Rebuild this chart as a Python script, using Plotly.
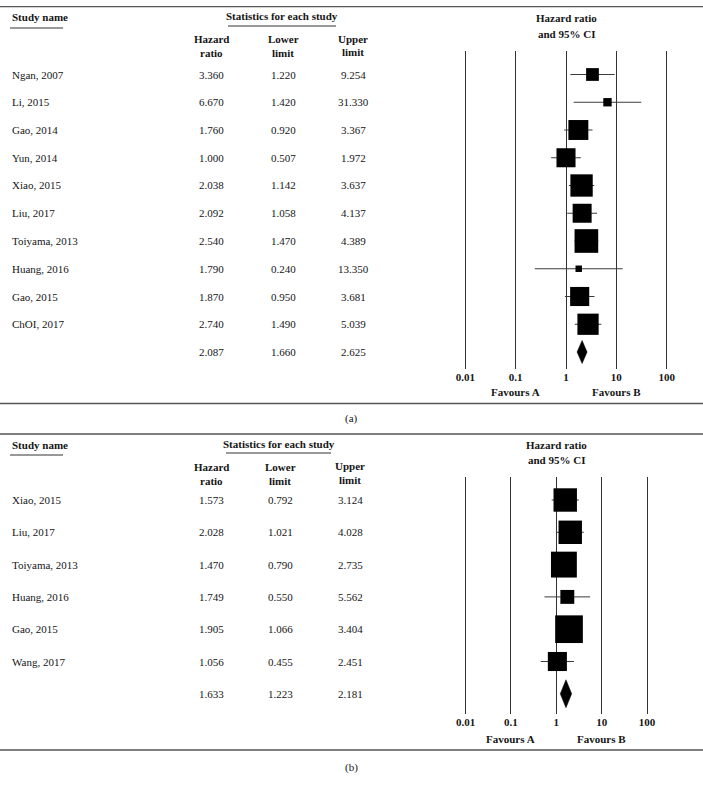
import numpy as np
import plotly.graph_objects as go

# ---------------- data ----------------
studies_a = ["Ngan, 2007", "Li, 2015", "Gao, 2014", "Yun, 2014", "Xiao, 2015",
             "Liu, 2017", "Toiyama, 2013", "Huang, 2016", "Gao, 2015", "ChOI, 2017"]
hr_a = [3.360, 6.670, 1.760, 1.000, 2.038, 2.092, 2.540, 1.790, 1.870, 2.740]
lo_a = [1.220, 1.420, 0.920, 0.507, 1.142, 1.058, 1.470, 0.240, 0.950, 1.490]
up_a = [9.254, 31.330, 3.367, 1.972, 3.637, 4.137, 4.389, 13.350, 3.681, 5.039]
pooled_a = [2.087, 1.660, 2.625]

studies_b = ["Xiao, 2015", "Liu, 2017", "Toiyama, 2013", "Huang, 2016", "Gao, 2015", "Wang, 2017"]
hr_b = [1.573, 2.028, 1.470, 1.749, 1.905, 1.056]
lo_b = [0.792, 1.021, 0.790, 0.550, 1.066, 0.455]
up_b = [3.124, 4.028, 2.735, 5.562, 3.404, 2.451]
pooled_b = [1.633, 1.223, 2.181]

tick_vals = [0.01, 0.1, 1, 10, 100]
tick_text = ["0.01", "0.1", "1", "10", "100"]

# ---------------- layout helpers ----------------
W, H = 703, 787
FONT = "Liberation Serif"
TXT = "#151515"


def px(x):
    return x / W


def py(y):
    return 1 - y / H


panels = [
    dict(name="a", studies=studies_a, hr=hr_a, lo=lo_a, up=up_a, pooled=pooled_a,
         row0=74.5, step=27.75, grid_top=51, grid_bot=369, zero_px=566.0, dec=50.33,
         box_k=6.6, dia_h=11.5, top_rule=6.7, bot_rule=403.5, label_y=418.5, label="(a)",
         hdr1=17, hdr_sub=28, hdr_hr=(18, 34), col_hdr=(39.5, 53), fav_y=392.5,
         cols=(212, 283, 353), fs=11, xa="x", ya="y"),
    dict(name="b", studies=studies_b, hr=hr_b, lo=lo_b, up=up_b, pooled=pooled_b,
         row0=500.0, step=32.3, grid_top=477, grid_bot=714, zero_px=556.3, dec=45.4,
         box_k=8.2, dia_h=14, top_rule=434, bot_rule=750, label_y=767, label="(b)",
         hdr1=444.5, hdr_sub=455, hdr_hr=(445, 460), col_hdr=(467, 480.5), fav_y=739,
         cols=(212, 280, 350), fs=11, xa="x2", ya="y2"),
]

fig = go.Figure()
shapes = []
annotations = []
layout_axes = {}

for i, p in enumerate(panels):
    n = len(p["studies"])
    rows = list(range(n))
    sum_row = n
    # CI lines
    xs, ys = [], []
    for r, l, u in zip(rows, p["lo"], p["up"]):
        xs += [l, u, None]
        ys += [r, r, None]
    fig.add_trace(go.Scatter(x=xs, y=ys, mode="lines", line=dict(color="#3c3c3c", width=1),
                             hoverinfo="skip", showlegend=False, xaxis=p["xa"], yaxis=p["ya"]))
    # boxes: area proportional to inverse-variance weight
    se = (np.log(p["up"]) - np.log(p["lo"])) / 3.92
    sizes = p["box_k"] / se
    fig.add_trace(go.Scatter(x=p["hr"], y=rows, mode="markers",
                             marker=dict(symbol="square", size=sizes, color="black",
                                         opacity=1, line=dict(width=0)),
                             showlegend=False, xaxis=p["xa"], yaxis=p["ya"]))
    # pooled diamond
    est, lo, up = p["pooled"]
    h = p["dia_h"] / p["step"]
    fig.add_trace(go.Scatter(x=[lo, est, up, est, lo],
                             y=[sum_row, sum_row - h, sum_row, sum_row + h, sum_row],
                             mode="lines", fill="toself", fillcolor="black",
                             line=dict(color="black", width=0.5),
                             showlegend=False, xaxis=p["xa"], yaxis=p["ya"]))

    # axes
    x0p, x1p = 440, 690
    xr = [(x0p - p["zero_px"]) / p["dec"], (x1p - p["zero_px"]) / p["dec"]]
    ytop = (p["grid_top"] - p["row0"]) / p["step"]
    ybot = (p["grid_bot"] - p["row0"]) / p["step"]
    suffix = "" if i == 0 else "2"
    layout_axes["xaxis" + suffix] = dict(
        domain=[px(x0p), px(x1p)], type="log", range=xr,
        tickvals=tick_vals, ticktext=["<b>%s</b>" % t for t in tick_text],
        tickfont=dict(family=FONT, size=11, color=TXT),
        showgrid=True, gridcolor="#333333", gridwidth=1.3, zeroline=False,
        showline=False, ticks="", anchor="y" + suffix, fixedrange=True)
    layout_axes["yaxis" + suffix] = dict(
        domain=[py(p["grid_bot"]), py(p["grid_top"])], range=[ybot, ytop],
        visible=False, showgrid=False, zeroline=False, anchor="x" + suffix, fixedrange=True)

    # rules
    for yy in (p["top_rule"], p["bot_rule"]):
        shapes.append(dict(type="line", xref="paper", yref="paper", x0=0, x1=1,
                           y0=py(yy), y1=py(yy), line=dict(color="#555555", width=1.3)))
    # underlines
    shapes.append(dict(type="line", xref="paper", yref="paper", x0=px(10), x1=px(63),
                       y0=py(p["hdr_sub"]), y1=py(p["hdr_sub"]), line=dict(color="#333", width=1)))
    ux = (228, 336) if i == 0 else (226, 331)
    shapes.append(dict(type="line", xref="paper", yref="paper", x0=px(ux[0]), x1=px(ux[1]),
                       y0=py(p["hdr_sub"] - 2), y1=py(p["hdr_sub"] - 2), line=dict(color="#333", width=1)))

    def ann(text, x, y, xanchor="center", bold=False, size=None):
        annotations.append(dict(
            text=("<b>%s</b>" % text) if bold else text, x=px(x), y=py(y),
            xref="paper", yref="paper", xanchor=xanchor, yanchor="middle",
            showarrow=False, font=dict(family=FONT, size=size or p["fs"], color=TXT)))

    ann("Study name", 10, p["hdr1"], xanchor="left", bold=True)
    ann("Statistics for each study", (ux[0] + ux[1]) / 2, p["hdr1"] - 1, bold=True)
    ann("Hazard ratio", p["zero_px"], p["hdr_hr"][0], bold=True)
    ann("and 95% CI", p["zero_px"], p["hdr_hr"][1], bold=True)
    cx = p["cols"]
    ann("Hazard", cx[0], p["col_hdr"][0], bold=True)
    ann("ratio", cx[0], p["col_hdr"][1], bold=True)
    ann("Lower", cx[1], p["col_hdr"][0], bold=True)
    ann("limit", cx[1], p["col_hdr"][1], bold=True)
    ann("Upper", cx[2], p["col_hdr"][0] - 1, bold=True)
    ann("limit", cx[2], p["col_hdr"][1] - 1, bold=True)

    for r in rows:
        yy = p["row0"] + r * p["step"]
        ann(p["studies"][r], 10, yy, xanchor="left")
        ann("%.3f" % p["hr"][r], cx[0], yy)
        ann("%.3f" % p["lo"][r], cx[1], yy)
        ann("%.3f" % p["up"][r], cx[2], yy)
    yy = p["row0"] + sum_row * p["step"]
    ann("%.3f" % est, cx[0], yy)
    ann("%.3f" % lo, cx[1], yy)
    ann("%.3f" % up, cx[2], yy)

    ann("Favours A", p["zero_px"] - p["dec"], p["fav_y"], bold=True)
    ann("Favours B", p["zero_px"] + p["dec"], p["fav_y"], bold=True)
    ann(p["label"], 351, p["label_y"])

fig.update_layout(
    width=W, height=H, margin=dict(l=0, r=0, t=0, b=0),
    paper_bgcolor="white", plot_bgcolor="white",
    shapes=shapes, annotations=annotations, showlegend=False,
    **layout_axes)

fig.write_html("out.html", config={"displayModeBar": False},
               post_script="document.body.style.margin='0';document.body.style.overflow='hidden';")
